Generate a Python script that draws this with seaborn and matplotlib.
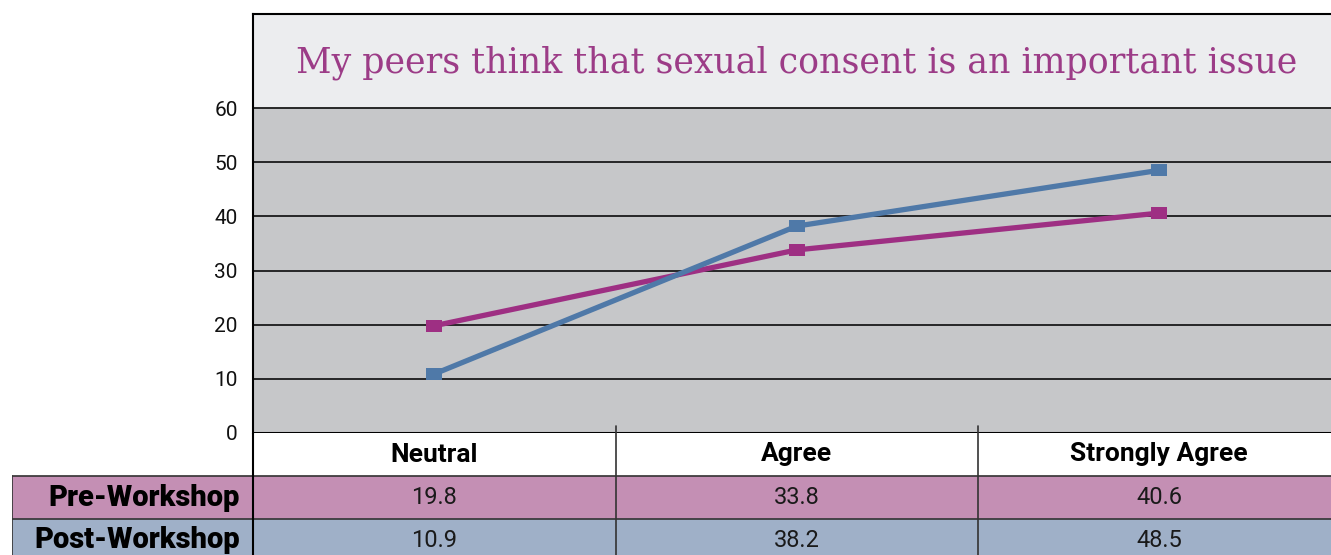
import matplotlib
matplotlib.use('Agg')
import matplotlib.pyplot as plt
import matplotlib.transforms as mtransforms
from matplotlib.patches import Rectangle
import seaborn as sns
import pandas as pd

# data
categories = ['Neutral', 'Agree', 'Strongly Agree']
pre_workshop = [19.8, 33.8, 40.6]
post_workshop = [10.9, 38.2, 48.5]
series_names = ['Pre-Workshop', 'Post-Workshop']
title = 'My peers think that sexual consent is an important issue'
yticks = [0, 10, 20, 30, 40, 50, 60]

pre_col = '#9e2f83'
post_col = '#4f79a8'
pre_row = '#c48fb4'
post_row = '#9fb0c8'

df = pd.DataFrame({
    'category': categories * 2,
    'value': pre_workshop + post_workshop,
    'series': [series_names[0]] * 3 + [series_names[1]] * 3,
})

sns.set_style('white')
plt.rcParams['font.family'] = ['Roboto', 'DejaVu Sans']

W, H = 1331, 555
fig = plt.figure(figsize=(W / 100, H / 100), dpi=100)
fig.patch.set_facecolor('white')

# main chart axes
ax = fig.add_axes([253 / W, (H - 433) / H, (W - 253) / W, (433 - 14) / H])
ax.set_facecolor('#ecedef')
ymax = 60 + (108 - 14) / (325 / 60)
ax.set_ylim(0, ymax)
ax.axhspan(0, 60, color='#c6c7c9', zorder=0)
for t in yticks[1:]:
    ax.axhline(t, color='#1a1a1a', lw=1.3, zorder=1)
ax.axhline(0, color='black', lw=2.2, zorder=1)

rect = [(-1, -0.68), (1, -0.68), (1, 0.68), (-1, 0.68), (-1, -0.68)]
sns.lineplot(data=df, x='category', y='value', hue='series',
             palette={series_names[0]: pre_col, series_names[1]: post_col},
             hue_order=series_names,
             marker=rect, markersize=12, markeredgewidth=0, linewidth=3.8,
             ax=ax, legend=False, zorder=3)
ax.set_xlim(-0.5, -0.5 + (W - 253) / 362.5)
ax.set_xlabel('')
ax.set_ylabel('')
ax.set_xticks([])
ax.set_yticks(yticks)
ax.set_yticklabels([str(t) for t in yticks], fontsize=15, color='#111111')
off = mtransforms.ScaledTranslation(0, 4 / 100, fig.dpi_scale_trans)
for lab in ax.get_yticklabels():
    lab.set_transform(lab.get_transform() + off)
ax.tick_params(axis='y', length=0, pad=11)
for s in ['right', 'bottom']:
    ax.spines[s].set_visible(False)
ax.spines['top'].set_color('black')
ax.spines['top'].set_linewidth(1.5)
ax.spines['left'].set_color('black')
ax.spines['left'].set_linewidth(1.5)
ax.text(1, 68.3, title, ha='center', va='center',
        fontsize=25, color='#9c3c87', family=['DejaVu Serif'])

# table below
tx0 = -0.5 - 241 / 362.5
tax = fig.add_axes([12 / W, 0, (W - 12) / W, 122 / H])
tax.set_xlim(tx0, ax.get_xlim()[1])
nrows = 122 / 43
tax.set_ylim(nrows, 0)
tax.axis('off')

rows = [(series_names[0], pre_workshop, pre_row),
        (series_names[1], post_workshop, post_row)]
for i, (name, vals, col) in enumerate(rows, start=1):
    tax.add_patch(Rectangle((tx0, i), ax.get_xlim()[1] - tx0, 1, color=col, zorder=0))
    tax.text(-0.5 - 13 / 362.5, i + 0.5, name, ha='right', va='center',
             fontsize=21, fontweight='black', color='black')
    for j, v in enumerate(vals):
        tax.text(j, i + 0.5, f'{v}', ha='center', va='center', fontsize=17,
                 color='#1a1a1a')
for j, c in enumerate(categories):
    tax.text(j, 0.5, c, ha='center', va='center', fontsize=19,
             fontweight='bold', color='black')

lk = dict(color='#333333', lw=1.2, zorder=2)
tax.plot([tx0, ax.get_xlim()[1]], [1, 1], **lk)
tax.plot([tx0, ax.get_xlim()[1]], [2, 2], **lk)
tax.plot([tx0, tx0], [1, nrows], **lk)
tax.plot([-0.5, -0.5], [0, nrows], color='black', lw=1.5, zorder=2)
for b in [0.5, 1.5]:
    tax.plot([b, b], [-0.17, nrows], clip_on=False, **lk)

fig.savefig('out.png', dpi=100)
plt.close(fig)
